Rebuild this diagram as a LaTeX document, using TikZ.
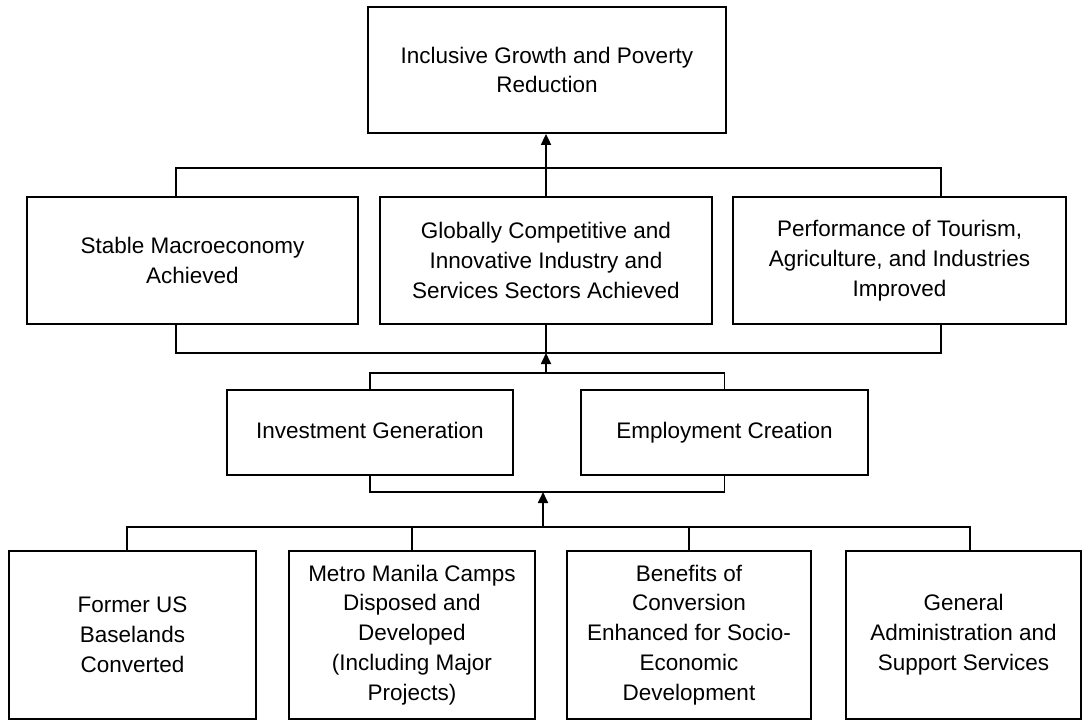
\documentclass[tikz,border=0pt]{standalone}
\usepackage{fontspec}
\setmainfont{Liberation Sans}
\usetikzlibrary{arrows.meta,calc}

\tikzset{
    box/.style={draw, line width=1pt, align=center, inner sep=0pt, font=\fontsize{12.8}{17}\selectfont},
    onebox/.style={box, text height=1.6ex, text depth=0.4ex},
    uparrow/.style={-{Triangle[length=2.2mm,width=2mm]}},
    link/.style={line width=1pt}
}

\begin{document}
\begin{tikzpicture}
            % Results framework
            \useasboundingbox (0,0) rectangle (21.66,-14.42);

            \node[box, minimum width=7.16cm, minimum height=2.52cm] (goal) at (10.94,-1.40) {Inclusive Growth and Poverty\\Reduction};

            \node[box, minimum width=6.62cm, minimum height=2.54cm] (macro) at (3.85,-5.21) {Stable Macroeconomy\\Achieved};
            \node[box, minimum width=6.64cm, minimum height=2.54cm] (industry) at (10.92,-5.21) {Globally Competitive and\\Innovative Industry and\\Services Sectors Achieved};
            \node[box, minimum width=6.66cm, minimum height=2.54cm] (tourism) at (17.99,-5.21) {Performance of Tourism,\\Agriculture, and Industries\\Improved};

            \node[onebox, minimum width=5.72cm, minimum height=1.70cm] (invest) at (7.40,-8.65) {Investment Generation};
            \node[onebox, minimum width=5.74cm, minimum height=1.70cm] (employ) at (14.49,-8.65) {Employment Creation};

            % bottom row
            \node[box, minimum width=4.94cm, minimum height=3.36cm] (former) at (2.65,-12.70) {Former US\\Baselands\\Converted};
            \node[box, minimum width=4.92cm, minimum height=3.36cm] (metro) at (8.24,-12.70) {Metro Manila Camps\\Disposed and\\Developed\\(Including Major\\Projects)};
            \node[box, minimum width=4.88cm, minimum height=3.36cm] (benefits) at (13.78,-12.70) {Benefits of\\Conversion\\Enhanced for Socio-\\Economic\\Development};
            \node[box, minimum width=4.70cm, minimum height=3.36cm] (general) at (19.27,-12.70) {General\\Administration and\\Support Services};

            \coordinate (bar1w) at (3.52,-3.36);
            \coordinate (bar1e) at (18.82,-3.36);
            \coordinate (bar2w) at (3.52,-7.06);
            \coordinate (bar2e) at (18.82,-7.06);
            \coordinate (bar3) at (10.92,-7.46);
            \coordinate (bar4) at (10.86,-9.84);
            \coordinate (bar5w) at (2.54,-10.54);
            \coordinate (bar5e) at (19.40,-10.54);

            % outcomes to goal
            \draw[link] (macro.north -| bar1w) |- (bar1e) -- (tourism.north -| bar1e);
            \draw[link, uparrow] (industry.north) -- (industry.north |- goal.south);

            \draw[link] (macro.south -| bar2w) |- (bar2e) -- (tourism.south -| bar2e);
            \draw[link] (industry.south) -- (industry.south |- bar2w);

            % investment and employment
            \draw[link] (invest.north) |- (bar3) -| (employ.north);
            \draw[link, uparrow] (bar3) -- (bar3 |- bar2w);
            \draw[link] (invest.south) |- (bar4) -| (employ.south);

            % programs
            \draw[link] (former.north -| bar5w) |- (bar5e) -- (general.north -| bar5e);
            \draw[link] (metro.north) -- (metro.north |- bar5w);
            \draw[link] (benefits.north) -- (benefits.north |- bar5w);
            \draw[link, uparrow] (bar5w -| bar4) -- (bar4);
        \end{tikzpicture}
\end{document}
